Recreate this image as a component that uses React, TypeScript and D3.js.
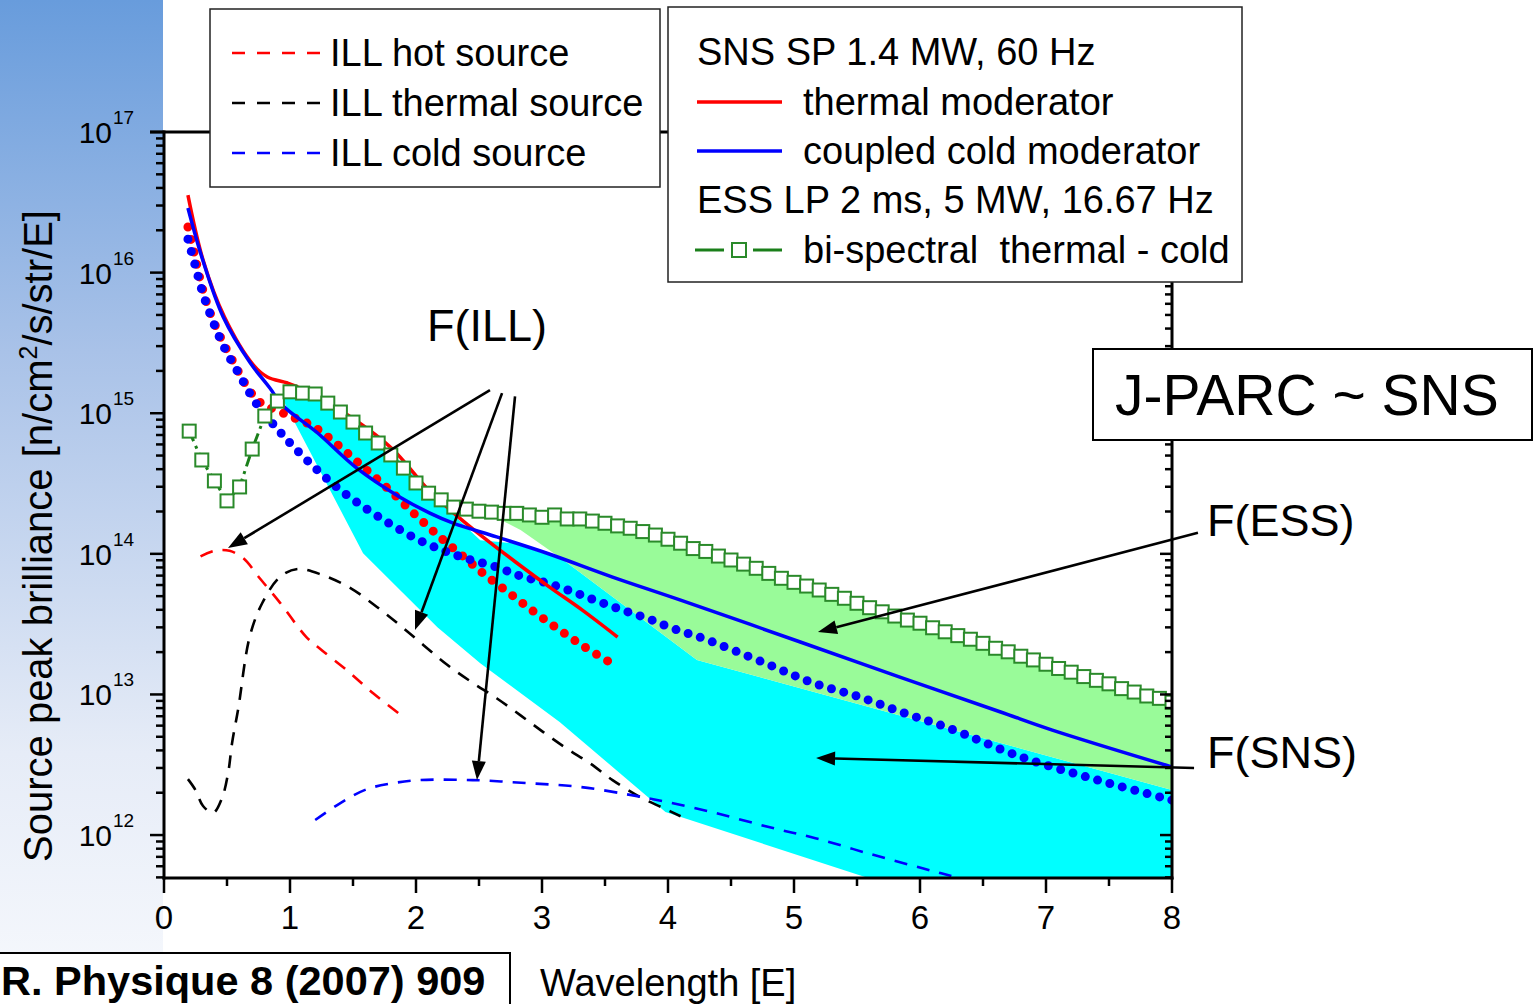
import { useEffect, useRef } from "react";
import * as d3 from "d3";

// ILL reactor sources, dashed curves (wavelength in Angstrom, brilliance)
const illHotLambda = [0.29, 0.4, 0.52, 0.63, 0.76, 0.92, 1.13, 1.25, 1.45, 1.66, 1.9];
const illHotValues = [9.6e13, 1.05e14, 1.05e14, 9.3e13, 6.7e13, 4.5e13, 2.56e13, 2.07e13, 1.49e13, 1.02e13, 6.9e12];

const illThermalLambda = [
  0.19, 0.25, 0.31, 0.39, 0.46, 0.51, 0.54, 0.59, 0.68, 0.78, 0.92, 1.06, 1.26, 1.48, 1.69, 1.87, 2.06, 2.25,
  2.45, 2.64, 2.83, 3.01, 3.2, 3.38, 3.56, 3.78, 3.96, 4.1,
];
const illThermalValues = [
  2.5e12, 2.09e12, 1.61e12, 1.44e12, 1.83e12, 2.8e12, 4.5e12, 8.0e12, 2.57e13, 4.47e13, 6.84e13, 7.8e13, 7.06e13,
  5.71e13, 4.19e13, 3.12e13, 2.24e13, 1.62e13, 1.21e13, 9.4e12, 7.1e12, 5.4e12, 4.1e12, 3.24e12, 2.46e12, 1.86e12,
  1.56e12, 1.36e12,
];

const illColdLambda = [1.2, 1.4, 1.61, 1.82, 2.03, 2.45, 2.88, 3.3, 3.7, 3.99, 4.37, 4.8, 5.17, 5.59, 6.02, 6.29, 6.64];
const illColdValues = [
  1.28e12, 1.69e12, 2.12e12, 2.34e12, 2.46e12, 2.46e12, 2.34e12, 2.2e12, 1.93e12, 1.72e12, 1.44e12, 1.14e12, 9.5e11,
  7.4e11, 5.8e11, 5.0e11, 4.1e11,
];

// SNS moderators, solid curves
const snsThermalLambda = [0.19, 0.31, 0.48, 0.71, 0.82, 0.98, 1.08, 1.4, 1.8, 2.1, 2.3, 2.53, 2.79, 3.06, 3.32, 3.6];
const snsThermalValues = [
  3.56e16, 1.23e16, 4.83e15, 2.2e15, 1.81e15, 1.64e15, 1.51e15, 1.05e15, 5.7e14, 2.84e14, 1.95e14, 1.32e14, 8.75e13,
  5.8e13, 3.98e13, 2.56e13,
];

const snsColdLambda = [
  0.19, 0.3, 0.47, 0.68, 0.84, 0.94, 1.21, 1.53, 1.87, 2.11, 2.29, 2.64, 3.04, 3.56, 4.1, 5.05, 5.84, 6.64, 7.05, 8.0,
];
const snsColdValues = [
  2.88e16, 1.29e16, 4.83e15, 2.31e15, 1.51e15, 1.14e15, 7.35e14, 4.07e14, 2.54e14, 1.95e14, 1.66e14, 1.32e14, 1.01e14,
  6.84e13, 4.69e13, 2.36e13, 1.33e13, 7.5e12, 5.58e12, 3.05e12,
];

// dotted curves (thermal red, cold blue)
const thermalDotLambda = [
  0.19, 0.24, 0.29, 0.35, 0.44, 0.55, 0.67, 0.76, 0.98, 1.18, 1.37, 1.57, 1.78, 1.98, 2.18, 2.38, 2.53, 2.74, 2.94,
  3.14, 3.34, 3.55,
];
const thermalDotValues = [
  2.11e16, 1.38e16, 8.7e15, 5.69e15, 3.6e15, 2.31e15, 1.49e15, 1.2e15, 9.7e14, 8.1e14, 6.04e14, 4.22e14, 2.89e14,
  1.95e14, 1.34e14, 9.5e13, 7.3e13, 5.26e13, 3.85e13, 2.87e13, 2.17e13, 1.67e13,
];

const coldDotLambda = [
  0.19, 0.25, 0.31, 0.39, 0.48, 0.6, 0.73, 0.9, 1.0, 1.2, 1.4, 1.61, 1.81, 2.01, 2.21, 2.41, 2.64, 2.83, 3.04, 3.25,
  3.44, 3.64, 3.85, 4.05, 4.27, 4.77, 5.16, 5.52, 5.87, 6.22, 6.8, 7.41, 8.0,
];
const coldDotValues = [
  1.73e16, 1.1e16, 7.05e15, 4.46e15, 2.91e15, 1.87e15, 1.18e15, 7.73e14, 6.14e14, 4.07e14, 2.84e14, 2.08e14, 1.6e14,
  1.27e14, 1.06e14, 9.2e13, 8.05e13, 6.95e13, 6.19e13, 5.35e13, 4.61e13, 3.98e13, 3.44e13, 2.92e13, 2.52e13, 1.67e13,
  1.2e13, 9.6e12, 7.4e12, 5.8e12, 3.6e12, 2.46e12, 1.77e12,
];

// ESS LP bi-spectral thermal - cold (squares)
const essLambda = [
  0.2, 0.3, 0.4, 0.5, 0.6, 0.7, 0.8, 0.9, 1.0, 1.1, 1.2, 1.3, 1.4, 1.5, 1.6, 1.7, 1.8, 1.9, 2.0,
  2.1, 2.2, 2.3, 2.4, 2.5, 2.6, 2.7, 2.8, 2.9, 3.0, 3.1, 3.2, 3.3, 3.4, 3.5, 3.6, 3.7, 3.8, 3.9, 4.0,
  4.1, 4.2, 4.3, 4.4, 4.5, 4.6, 4.7, 4.8, 4.9, 5.0, 5.1, 5.2, 5.3, 5.4, 5.5, 5.6, 5.7, 5.8, 5.9, 6.0,
  6.1, 6.2, 6.3, 6.4, 6.5, 6.6, 6.7, 6.8, 6.9, 7.0, 7.1, 7.2, 7.3, 7.4, 7.5, 7.6, 7.7, 7.8, 7.9, 8.0,
];
const essValues = [
  7.46e14, 4.65e14, 3.3e14, 2.38e14, 2.99e14, 5.56e14, 9.55e14, 1.22e15, 1.42e15, 1.39e15, 1.37e15, 1.18e15, 1.02e15,
  8.65e14, 7.23e14, 6.14e14, 5.05e14, 4.07e14, 3.19e14,
  2.7e14, 2.42e14, 2.15e14, 2.08e14, 2.01e14, 1.98e14, 1.94e14, 1.94e14, 1.89e14, 1.82e14, 1.89e14, 1.77e14, 1.77e14,
  1.71e14, 1.65e14, 1.58e14, 1.52e14, 1.44e14, 1.36e14, 1.27e14,
  1.19e14, 1.09e14, 1.04e14, 9.64e13, 9.04e13, 8.45e13, 7.89e13, 7.26e13, 6.7e13, 6.27e13, 5.9e13, 5.53e13, 5.15e13,
  4.83e13, 4.45e13, 4.14e13, 3.87e13, 3.61e13, 3.38e13, 3.21e13,
  2.98e13, 2.79e13, 2.62e13, 2.47e13, 2.31e13, 2.13e13, 2.01e13, 1.87e13, 1.76e13, 1.64e13, 1.53e13, 1.44e13, 1.34e13,
  1.26e13, 1.19e13, 1.1e13, 1.04e13, 9.75e12, 9.38e12, 8.81e12,
];

// shaded bands: F(SNS) cyan and F(ESS) green
const fSnsUpperLambda = [0.944, 1.1, 1.4, 1.8, 2.2, 2.29, 2.51, 2.77, 3.17, 4.23, 8.0];
const fSnsUpperValues = [1.35e15, 1.39e15, 1.05e15, 5.21e14, 2.45e14, 1.92e14, 1.25e14, 1.19e14, 9.04e13, 1.76e13, 2.09e12];
const fSnsLowerLambda = [0.944, 1.58, 2.17, 2.51, 3.14, 3.98, 6.64, 8.0];
const fSnsLowerValues = [1.24e15, 1.01e14, 3.01e13, 1.67e13, 6.37e12, 1.46e12, 2.44e11, 2.44e11];
const fEssLowerLambda = [2.64, 2.83, 3.17, 4.23, 8.0];
const fEssLowerValues = [1.8e14, 1.48e14, 9.04e13, 1.76e13, 2.09e12];

const xTicks = [0, 1, 2, 3, 4, 5, 6, 7, 8];
const yDecades = [12, 13, 14, 15, 16, 17];

const FONT = "'Liberation Sans', Arial, sans-serif";

type P = [number, number];
const pts = (xs: number[], vs: number[]): P[] => xs.map((l, i) => [l, vs[i]] as P);

export default function App() {
  const reference = useRef<SVGSVGElement>(null);

  useEffect(() => {
    const svg = d3.select(reference.current);
    svg.selectAll("*").remove();
    svg.attr("font-family", FONT);

    const x = d3.scaleLinear().domain([0, 8]).range([164, 1172]);
    const y = d3.scaleLog().domain([4.95e11, 1e17]).range([878, 132]);

    const defs = svg.append("defs");
    const grad = defs
      .append("linearGradient")
      .attr("id", "side-grad")
      .attr("x1", 0)
      .attr("y1", 0)
      .attr("x2", 0)
      .attr("y2", 1);
    grad.append("stop").attr("offset", "0%").attr("stop-color", "#689cdc");
    grad.append("stop").attr("offset", "35%").attr("stop-color", "#a9c2e8");
    grad.append("stop").attr("offset", "75%").attr("stop-color", "#e6ecf7");
    grad.append("stop").attr("offset", "100%").attr("stop-color", "#f7f9fd");
    defs
      .append("clipPath")
      .attr("id", "plot-clip")
      .append("rect")
      .attr("x", 164)
      .attr("y", 132)
      .attr("width", 1008)
      .attr("height", 746);

    svg.append("rect").attr("x", 0).attr("y", 0).attr("width", 1535).attr("height", 1004).attr("fill", "#fff");
    svg.append("rect").attr("x", 0).attr("y", 0).attr("width", 163).attr("height", 1004).attr("fill", "url(#side-grad)");

    const line = d3
      .line<P>()
      .x((d) => x(d[0]))
      .y((d) => y(d[1]))
      .curve(d3.curveCatmullRom.alpha(0.5));
    const poly = d3
      .line<P>()
      .x((d) => x(d[0]))
      .y((d) => y(d[1]))
      .curve(d3.curveLinearClosed);

    const plot = svg.append("g").attr("clip-path", "url(#plot-clip)");

    // bands
    const snsBand = [...pts(fSnsUpperLambda, fSnsUpperValues), ...pts(fSnsLowerLambda, fSnsLowerValues).reverse()];
    plot.append("path").attr("d", poly(snsBand)).attr("fill", "#00ffff");
    const essTop = pts(essLambda, essValues).filter((d) => d[0] >= 2.6);
    const essBand = [...essTop, ...pts(fEssLowerLambda, fEssLowerValues).reverse()];
    plot.append("path").attr("d", poly(essBand)).attr("fill", "#99fb99");

    // ILL dashed
    const dashed = [
      { p: pts(illHotLambda, illHotValues), c: "#ff0000" },
      { p: pts(illThermalLambda, illThermalValues), c: "#000000" },
      { p: pts(illColdLambda, illColdValues), c: "#0000ff" },
    ];
    dashed.forEach((s) => {
      plot
        .append("path")
        .attr("d", line(s.p))
        .attr("fill", "none")
        .attr("stroke", s.c)
        .attr("stroke-width", 2.6)
        .attr("stroke-dasharray", "13 10");
    });

    // dotted
    [
      { p: pts(thermalDotLambda, thermalDotValues), c: "#ff0000" },
      { p: pts(coldDotLambda, coldDotValues), c: "#0000ff" },
    ].forEach((s) => {
      plot
        .append("path")
        .attr("d", line(s.p))
        .attr("fill", "none")
        .attr("stroke", s.c)
        .attr("stroke-width", 9)
        .attr("stroke-linecap", "round")
        .attr("stroke-dasharray", "0 12.8");
    });

    // SNS solid
    [
      { p: pts(snsThermalLambda, snsThermalValues), c: "#ff0000" },
      { p: pts(snsColdLambda, snsColdValues), c: "#0000ff" },
    ].forEach((s) => {
      plot
        .append("path")
        .attr("d", line(s.p))
        .attr("fill", "none")
        .attr("stroke", s.c)
        .attr("stroke-width", 3.5);
    });

    // ESS squares
    const ess = pts(essLambda, essValues);
    plot
      .append("path")
      .attr("d", d3.line<P>().x((d) => x(d[0])).y((d) => y(d[1]))(ess))
      .attr("fill", "none")
      .attr("stroke", "#1a7f1a")
      .attr("stroke-width", 3)
      .attr("stroke-dasharray", "11 5 3 5");
    plot
      .selectAll("rect.sq")
      .data(ess)
      .enter()
      .append("rect")
      .attr("class", "sq")
      .attr("x", (d) => x(d[0]) - 6.5)
      .attr("y", (d) => y(d[1]) - 6.5)
      .attr("width", 13)
      .attr("height", 13)
      .attr("fill", "#fff")
      .attr("stroke", "#2a8a2a")
      .attr("stroke-width", 2);

    // arrows
    const arrow = (l1: number, v1: number, l2: number, v2: number) => {
      const x1 = x(l1);
      const y1 = y(v1);
      const x2 = x(l2);
      const y2 = y(v2);
      const a = Math.atan2(y2 - y1, x2 - x1);
      const len = 19;
      const hw = 7;
      const bx = x2 - len * Math.cos(a);
      const by = y2 - len * Math.sin(a);
      svg
        .append("line")
        .attr("x1", x1)
        .attr("y1", y1)
        .attr("x2", bx)
        .attr("y2", by)
        .attr("stroke", "#000")
        .attr("stroke-width", 2.6);
      svg
        .append("path")
        .attr(
          "d",
          `M${x2},${y2}L${bx - hw * Math.sin(a)},${by + hw * Math.cos(a)}L${bx + hw * Math.sin(a)},${by - hw * Math.cos(a)}Z`
        )
        .attr("fill", "#000");
    };
    arrow(2.587, 1.46e15, 0.508, 1.1e14);
    arrow(2.683, 1.39e15, 1.992, 2.87e13);
    arrow(2.786, 1.32e15, 2.484, 2.46e12);
    arrow(8.206, 1.41e14, 5.19, 2.78e13);
    arrow(8.175, 3.0e12, 5.175, 3.53e12);

    // axes
    const ax = svg.append("g").attr("stroke", "#000");
    ax.append("line").attr("x1", 164).attr("y1", 130.5).attr("x2", 164).attr("y2", 879.5).attr("stroke-width", 3);
    ax.append("line").attr("x1", 1172).attr("y1", 130.5).attr("x2", 1172).attr("y2", 879.5).attr("stroke-width", 3);
    ax.append("line").attr("x1", 150).attr("y1", 132).attr("x2", 1173.5).attr("y2", 132).attr("stroke-width", 3);
    ax.append("line").attr("x1", 162.5).attr("y1", 878).attr("x2", 1173.5).attr("y2", 878).attr("stroke-width", 3);

    const yTicks = y.ticks();
    yTicks.forEach((t) => {
      const isMajor = Math.abs(Math.log10(t) - Math.round(Math.log10(t))) < 1e-6;
      const yy = y(t);
      ax.append("line")
        .attr("x1", isMajor ? 150 : 156)
        .attr("x2", 164)
        .attr("y1", yy)
        .attr("y2", yy)
        .attr("stroke-width", 2.5);
      ax.append("line")
        .attr("x1", 1172)
        .attr("x2", isMajor ? 1160 : 1165)
        .attr("y1", yy)
        .attr("y2", yy)
        .attr("stroke-width", 2.5);
    });
    xTicks.forEach((t) => {
      ax.append("line").attr("x1", x(t)).attr("x2", x(t)).attr("y1", 878).attr("y2", 893).attr("stroke-width", 2.5);
      if (t < 8)
        ax.append("line")
          .attr("x1", x(t + 0.5))
          .attr("x2", x(t + 0.5))
          .attr("y1", 878)
          .attr("y2", 886)
          .attr("stroke-width", 2.5);
    });

    // tick labels
    xTicks.forEach((t) => {
      svg
        .append("text")
        .attr("x", x(t))
        .attr("y", 929)
        .attr("text-anchor", "middle")
        .attr("font-size", 33)
        .text(String(t));
    });
    yDecades.forEach((e) => {
      const yy = y(Math.pow(10, e));
      svg.append("text").attr("x", 112).attr("y", yy + 11).attr("text-anchor", "end").attr("font-size", 30).text("10");
      svg.append("text").attr("x", 113).attr("y", yy - 8).attr("font-size", 19).text(String(e));
    });

    // axis titles
    const yl = svg
      .append("text")
      .attr("transform", "translate(52,536) rotate(-90)")
      .attr("text-anchor", "middle")
      .attr("font-size", 40);
    yl.append("tspan").text("Source peak brilliance [n/cm");
    yl.append("tspan").attr("dy", -15).attr("font-size", 25).text("2");
    yl.append("tspan").attr("dy", 15).text("/s/str/E]");
    svg.append("text").attr("x", 540).attr("y", 996).attr("font-size", 38).text("Wavelength [E]");

    // citation box
    svg
      .append("rect")
      .attr("x", -5)
      .attr("y", 953)
      .attr("width", 515)
      .attr("height", 70)
      .attr("fill", "#fff")
      .attr("stroke", "#000")
      .attr("stroke-width", 2);
    svg
      .append("text")
      .attr("x", 1)
      .attr("y", 995)
      .attr("font-size", 41.5)
      .attr("font-weight", "bold")
      .text("R. Physique 8 (2007) 909");

    // legend 1: ILL
    const lg1 = svg.append("g");
    lg1.append("rect")
      .attr("x", 210)
      .attr("y", 9)
      .attr("width", 450)
      .attr("height", 178)
      .attr("fill", "#fff")
      .attr("stroke", "#222")
      .attr("stroke-width", 1.5);
    [
      { t: "ILL hot source", c: "#ff0000", yy: 53 },
      { t: "ILL thermal source", c: "#000000", yy: 103 },
      { t: "ILL cold source", c: "#0000ff", yy: 153 },
    ].forEach((d) => {
      lg1.append("line")
        .attr("x1", 232)
        .attr("x2", 320)
        .attr("y1", d.yy)
        .attr("y2", d.yy)
        .attr("stroke", d.c)
        .attr("stroke-width", 2.6)
        .attr("stroke-dasharray", "13 12");
      lg1.append("text").attr("x", 330).attr("y", d.yy + 13).attr("font-size", 38).text(d.t);
    });

    // legend 2: SNS / ESS
    const lg2 = svg.append("g");
    lg2.append("rect")
      .attr("x", 668)
      .attr("y", 7)
      .attr("width", 574)
      .attr("height", 275)
      .attr("fill", "#fff")
      .attr("stroke", "#222")
      .attr("stroke-width", 1.5);
    lg2.append("text").attr("x", 697).attr("y", 65).attr("font-size", 38).text("SNS SP 1.4 MW, 60 Hz");
    lg2.append("line").attr("x1", 697).attr("x2", 782).attr("y1", 102).attr("y2", 102).attr("stroke", "#ff0000").attr("stroke-width", 3.5);
    lg2.append("text").attr("x", 803).attr("y", 115).attr("font-size", 38).text("thermal moderator");
    lg2.append("line").attr("x1", 697).attr("x2", 782).attr("y1", 151).attr("y2", 151).attr("stroke", "#0000ff").attr("stroke-width", 3.5);
    lg2.append("text").attr("x", 803).attr("y", 164).attr("font-size", 38).text("coupled cold moderator");
    lg2.append("text").attr("x", 697).attr("y", 213).attr("font-size", 38).text("ESS LP 2 ms, 5 MW, 16.67 Hz");
    lg2.append("line").attr("x1", 695).attr("x2", 724).attr("y1", 250).attr("y2", 250).attr("stroke", "#1a7f1a").attr("stroke-width", 3);
    lg2.append("line").attr("x1", 753).attr("x2", 782).attr("y1", 250).attr("y2", 250).attr("stroke", "#1a7f1a").attr("stroke-width", 3);
    lg2.append("rect")
      .attr("x", 732)
      .attr("y", 243)
      .attr("width", 14)
      .attr("height", 14)
      .attr("fill", "#fff")
      .attr("stroke", "#2a8a2a")
      .attr("stroke-width", 2);
    lg2.append("text")
      .attr("x", 803)
      .attr("y", 263)
      .attr("font-size", 38)
      .attr("xml:space", "preserve")
      .style("white-space", "pre")
      .text("bi-spectral  thermal - cold");

    // J-PARC box
    svg
      .append("rect")
      .attr("x", 1093)
      .attr("y", 349)
      .attr("width", 439)
      .attr("height", 91)
      .attr("fill", "#fff")
      .attr("stroke", "#000")
      .attr("stroke-width", 2);
    svg.append("text").attr("x", 1115).attr("y", 415).attr("font-size", 57).text("J-PARC ~ SNS");

    // annotations
    svg.append("text").attr("x", 427).attr("y", 341).attr("font-size", 45).text("F(ILL)");
    svg.append("text").attr("x", 1207).attr("y", 536).attr("font-size", 45).text("F(ESS)");
    svg.append("text").attr("x", 1207).attr("y", 768).attr("font-size", 45).text("F(SNS)");
  }, []);

  return (
    <svg
      ref={reference}
      width={1535}
      height={1004}
      style={{ position: "absolute", left: 0, top: 0, display: "block" }}
    ></svg>
  );
}
